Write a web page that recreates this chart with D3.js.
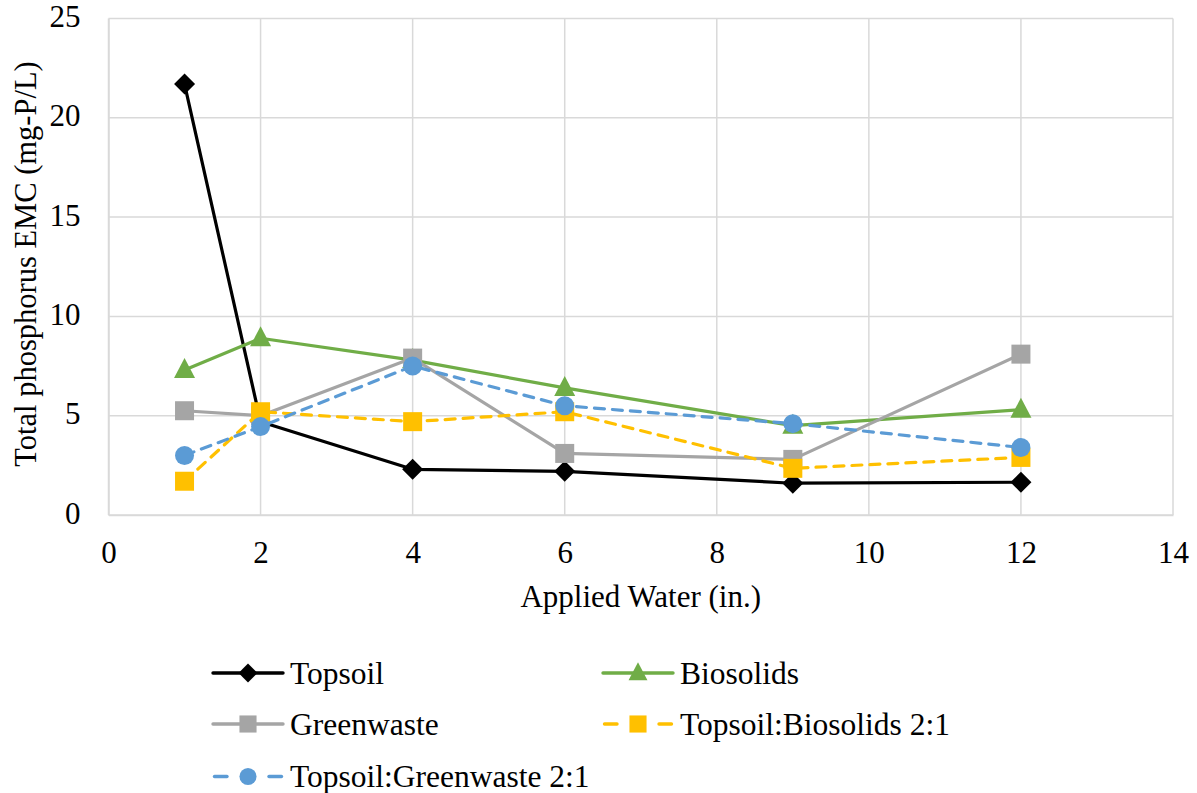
<!DOCTYPE html>
<html><head><meta charset="utf-8">
<script src="https://cdn.jsdelivr.net/npm/d3@7"></script>
<style>body{margin:0;background:#fff}</style>
</head><body><svg id="c" width="1197" height="793"></svg>
<script>
const xValues = [1, 2, 4, 6, 9, 12];
const topsoil = [21.7, 4.7, 2.3, 2.2, 1.6, 1.65];
const biosolids = [7.3, 8.9, 7.8, 6.4, 4.5, 5.3];
const greenwaste = [5.25, 5.0, 7.9, 3.1, 2.8, 8.1];
const topsoilBiosolids = [1.7, 5.2, 4.7, 5.2, 2.35, 2.9];
const topsoilGreenwaste = [3.0, 4.45, 7.5, 5.5, 4.6, 3.4];
const xTicks = [0, 2, 4, 6, 8, 10, 12, 14];
const yTicks = [0, 5, 10, 15, 20, 25];
const seriesNames = ["Topsoil", "Biosolids", "Greenwaste", "Topsoil:Biosolids 2:1", "Topsoil:Greenwaste 2:1"];

const FONT = "'Liberation Serif', 'Times New Roman', 'DejaVu Serif', serif";
const FS = "31px";
const LFS = "31.5px";

const series = [
  {name: seriesNames[0], values: topsoil, color: "#000000", dash: null, marker: "diamond"},
  {name: seriesNames[1], values: biosolids, color: "#70AD47", dash: null, marker: "triangle"},
  {name: seriesNames[2], values: greenwaste, color: "#A5A5A5", dash: null, marker: "square"},
  {name: seriesNames[3], values: topsoilBiosolids, color: "#FFC000", dash: "10,8", marker: "square"},
  {name: seriesNames[4], values: topsoilGreenwaste, color: "#5B9BD5", dash: "10,8", marker: "circle"}
];

const svg = d3.select("#c");
const x = d3.scaleLinear().domain([0, 14]).range([108.5, 1173]);
const y = d3.scaleLinear().domain([0, 25]).range([515, 18.5]);

const grid = svg.append("g");
grid.selectAll("line.v").data(xTicks).join("line")
  .attr("x1", d => x(d)).attr("x2", d => x(d)).attr("y1", y(0)).attr("y2", y(25))
  .attr("stroke", "#D9D9D9").attr("stroke-width", 1.5);
grid.selectAll("line.h").data(yTicks).join("line")
  .attr("x1", x(0)).attr("x2", x(14)).attr("y1", d => y(d)).attr("y2", d => y(d))
  .attr("stroke", "#D9D9D9").attr("stroke-width", 1.5);

const xAxis = svg.append("g").attr("transform", `translate(0,${y(0)})`)
  .call(d3.axisBottom(x).tickValues(xTicks).tickSize(0).tickPadding(0));
xAxis.attr("font-family", null).attr("font-size", null);
xAxis.select(".domain").attr("stroke", "#D9D9D9").attr("stroke-width", 1.5);
xAxis.selectAll("text").attr("dy", null).attr("y", 48)
  .style("font-family", FONT).style("font-size", FS).attr("fill", "#000");

const yAxis = svg.append("g").attr("transform", `translate(${x(0)},0)`)
  .call(d3.axisLeft(y).tickValues(yTicks).tickSize(0).tickPadding(28));
yAxis.attr("font-family", null).attr("font-size", null);
yAxis.select(".domain").attr("stroke", "#D9D9D9").attr("stroke-width", 1.5);
yAxis.selectAll("text").attr("dy", null).attr("y", 8).style("font-family", FONT).style("font-size", FS).attr("fill", "#000");

svg.append("text").attr("x", (x(0) + x(14)) / 2).attr("y", 607).attr("text-anchor", "middle")
  .style("font-family", FONT).style("font-size", FS).text("Applied Water (in.)");
svg.append("text").attr("transform", `translate(36,264) rotate(-90)`)
  .attr("text-anchor", "middle").style("font-family", FONT).style("font-size", "30.5px")
  .text("Total phosphorus EMC (mg-P/L)");

function drawMarker(g, type, color, s) {
  if (type === "diamond") g.append("path").attr("d", `M0,${-10.5*s} L${10.5*s},0 L0,${10.5*s} L${-10.5*s},0 Z`).attr("fill", color);
  else if (type === "triangle") g.append("path").attr("d", `M0,${-12*s} L${10.5*s},${8*s} L${-10.5*s},${8*s} Z`).attr("fill", color);
  else if (type === "square") g.append("rect").attr("x", -9.5*s).attr("y", -9.5*s).attr("width", 19*s).attr("height", 19*s).attr("fill", color);
  else if (type === "circle") g.append("circle").attr("r", 9.5*s).attr("fill", color);
}

const line = d3.line().x((d, i) => x(xValues[i])).y(d => y(d));
series.forEach(s => {
  svg.append("path").datum(s.values).attr("d", line).attr("fill", "none")
    .attr("stroke", s.color).attr("stroke-width", 3.2).attr("stroke-dasharray", s.dash)
    .attr("stroke-linejoin", "round").attr("stroke-linecap", s.dash ? "round" : "butt");
  s.values.forEach((v, i) => {
    const g = svg.append("g").attr("transform", `translate(${x(xValues[i])},${y(v)})`);
    drawMarker(g, s.marker, s.color, 1);
  });
});

const legendPos = [[213, 673], [603, 673], [213, 724], [603, 724], [213, 776.5]];
series.forEach((s, i) => {
  const [lx, ly] = legendPos[i];
  const g = svg.append("g");
  if (s.dash) {
    g.append("line").attr("x1", lx + 1.5).attr("x2", lx + 14).attr("y1", ly).attr("y2", ly).attr("stroke", s.color).attr("stroke-width", 3.4).attr("stroke-linecap", "round");
    g.append("line").attr("x1", lx + 56).attr("x2", lx + 68.5).attr("y1", ly).attr("y2", ly).attr("stroke", s.color).attr("stroke-width", 3.4).attr("stroke-linecap", "round");
  } else {
    g.append("line").attr("x1", lx).attr("x2", lx + 70).attr("y1", ly).attr("y2", ly).attr("stroke", s.color).attr("stroke-width", 3.4).attr("stroke-linecap", "round");
  }
  const m = g.append("g").attr("transform", `translate(${lx + 35},${ly})`);
  drawMarker(m, s.marker, s.color, 0.9);
  g.append("text").attr("x", lx + 77).attr("y", ly + 10.5)
    .style("font-family", FONT).style("font-size", LFS).text(s.name);
});
</script></body></html>
